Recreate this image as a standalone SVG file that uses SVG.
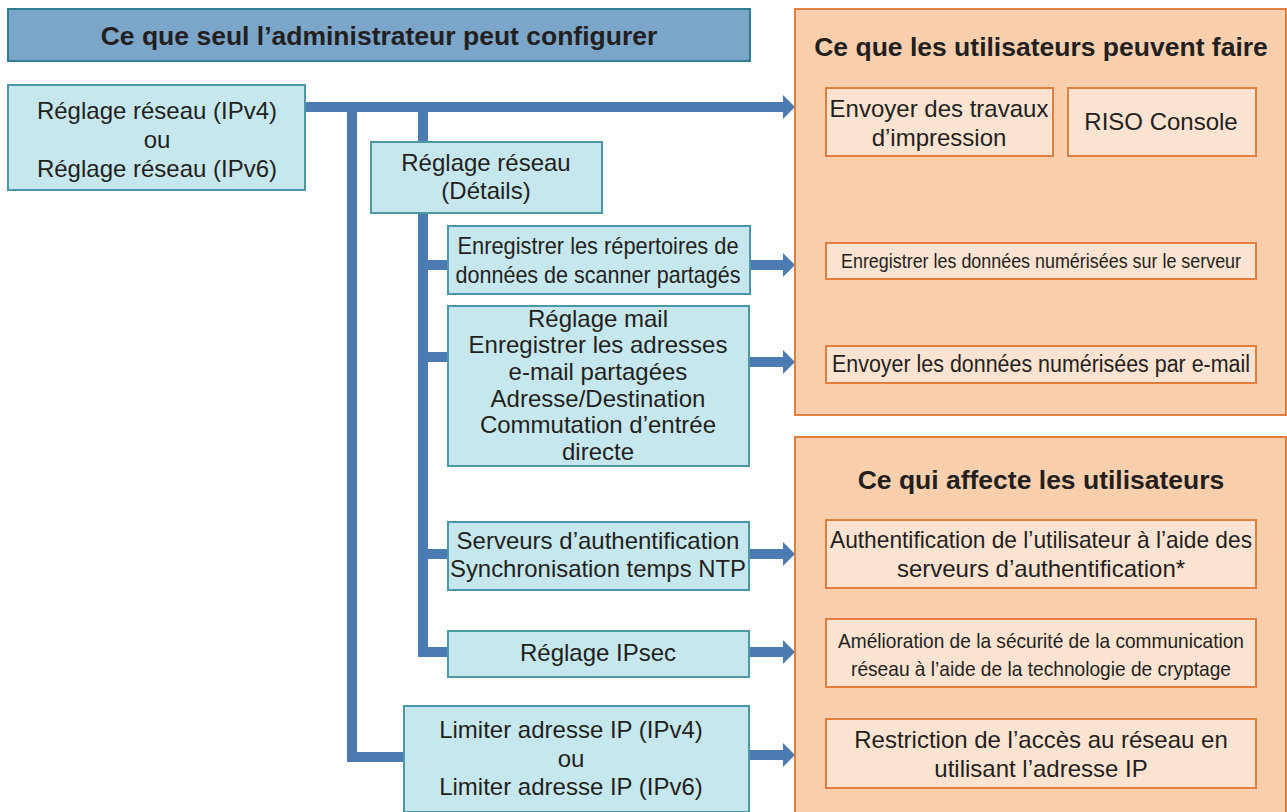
<svg xmlns="http://www.w3.org/2000/svg" width="1287" height="812" viewBox="0 0 1287 812">
<style>
text{font-family:"Liberation Sans",Arial,sans-serif;fill:#231f20;text-anchor:middle}
.t{font-size:24px}
.h{font-size:26.5px;font-weight:bold}
.bl{fill:#c6e7ee;stroke:#4b98a6;stroke-width:2}
.hd{fill:#7ba6ca;stroke:#2f7f8e;stroke-width:2}
.pn{fill:#facfad;stroke:#e27f3f;stroke-width:2}
.ob{fill:#fde3d1;stroke:#e27f3f;stroke-width:2}
.c{fill:none;stroke:#4b7bb1;stroke-width:10;stroke-linejoin:miter}
</style>
<defs>
<marker id="ah" markerUnits="userSpaceOnUse" markerWidth="13" markerHeight="26" refX="0" refY="13" orient="auto" viewBox="0 0 13 26">
<path d="M0,1 L12,13 L0,25 Z" fill="#4b7bb1"/>
</marker>
</defs>
<g id="connectors">
<path class="c" d="M305,107 H783" marker-end="url(#ah)"/>
<path class="c" d="M352,107 V757 H403"/>
<path class="c" d="M423,107 V652 H447"/>
<path class="c" d="M423,265 H447"/>
<path class="c" d="M423,357 H448"/>
<path class="c" d="M423,554 H448"/>
<path class="c" d="M750,265 H783" marker-end="url(#ah)"/>
<path class="c" d="M749,362 H783" marker-end="url(#ah)"/>
<path class="c" d="M749,554 H783" marker-end="url(#ah)"/>
<path class="c" d="M749,652 H783" marker-end="url(#ah)"/>
<path class="c" d="M749,755 H783" marker-end="url(#ah)"/>
</g>
<g id="title-admin">
<rect class="hd" x="8" y="9" width="742" height="52"/>
<text class="h" x="379" y="45">Ce que seul l’administrateur peut configurer</text>
</g>
<g id="n-reseau">
<rect class="bl" x="8" y="85" width="297" height="105"/>
<text class="t" x="157" y="119">Réglage réseau (IPv4)</text>
<text class="t" x="157" y="148">ou</text>
<text class="t" x="157" y="177">Réglage réseau (IPv6)</text>
</g>
<g id="n-details">
<rect class="bl" x="371" y="142" width="231" height="71"/>
<text class="t" x="486" y="171">Réglage réseau</text>
<text class="t" x="486" y="199">(Détails)</text>
</g>
<g id="n-repertoires">
<rect class="bl" x="448" y="226" width="302" height="68"/>
<text class="t" x="598" y="254" textLength="281" lengthAdjust="spacingAndGlyphs">Enregistrer les répertoires de</text>
<text class="t" x="598" y="283" textLength="285" lengthAdjust="spacingAndGlyphs">données de scanner partagés</text>
</g>
<g id="n-mail">
<rect class="bl" x="448" y="306" width="301" height="160"/>
<text class="t" x="598" y="327">Réglage mail</text>
<text class="t" x="598" y="353">Enregistrer les adresses</text>
<text class="t" x="598" y="380">e-mail partagées</text>
<text class="t" x="598" y="407">Adresse/Destination</text>
<text class="t" x="598" y="433">Commutation d’entrée</text>
<text class="t" x="598" y="460">directe</text>
</g>
<g id="n-serveurs">
<rect class="bl" x="448" y="522" width="301" height="68"/>
<text class="t" x="598" y="549">Serveurs d’authentification</text>
<text class="t" x="598" y="577" textLength="296" lengthAdjust="spacingAndGlyphs">Synchronisation temps NTP</text>
</g>
<g id="n-ipsec">
<rect class="bl" x="448" y="631" width="301" height="46"/>
<text class="t" x="598" y="661">Réglage IPsec</text>
</g>
<g id="n-limiter">
<rect class="bl" x="404" y="706" width="345" height="106"/>
<text class="t" x="571" y="738">Limiter adresse IP (IPv4)</text>
<text class="t" x="571" y="767">ou</text>
<text class="t" x="571" y="795">Limiter adresse IP (IPv6)</text>
</g>
<g id="panel-users">
<rect class="pn" x="795" y="9" width="491" height="406"/>
<text class="h" x="1041" y="56">Ce que les utilisateurs peuvent faire</text>
</g>
<g id="u-travaux">
<rect class="ob" x="826" y="88" width="227" height="68"/>
<text class="t" x="939" y="117">Envoyer des travaux</text>
<text class="t" x="939" y="146">d’impression</text>
</g>
<g id="u-riso">
<rect class="ob" x="1068" y="88" width="188" height="68"/>
<text class="t" x="1161" y="130">RISO Console</text>
</g>
<g id="u-serveur">
<rect class="ob" x="826" y="243" width="430" height="36"/>
<text class="t" x="1041" y="268" style="font-size:20px" textLength="400" lengthAdjust="spacingAndGlyphs">Enregistrer les données numérisées sur le serveur</text>
</g>
<g id="u-email">
<rect class="ob" x="826" y="346" width="430" height="37"/>
<text class="t" x="1041" y="372" style="font-size:23px" textLength="418" lengthAdjust="spacingAndGlyphs">Envoyer les données numérisées par e-mail</text>
</g>
<g id="panel-affect">
<rect class="pn" x="795" y="437" width="491" height="385"/>
<text class="h" x="1041" y="489">Ce qui affecte les utilisateurs</text>
</g>
<g id="a-auth">
<rect class="ob" x="826" y="520" width="430" height="68"/>
<text class="t" x="1041" y="548" textLength="422" lengthAdjust="spacingAndGlyphs">Authentification de l’utilisateur à l’aide des</text>
<text class="t" x="1041" y="577">serveurs d’authentification*</text>
</g>
<g id="a-ipsec">
<rect class="ob" x="826" y="619" width="430" height="68"/>
<text class="t" x="1041" y="648" style="font-size:21px" textLength="406" lengthAdjust="spacingAndGlyphs">Amélioration de la sécurité de la communication</text>
<text class="t" x="1041" y="676" style="font-size:21px" textLength="380" lengthAdjust="spacingAndGlyphs">réseau à l’aide de la technologie de cryptage</text>
</g>
<g id="a-ip">
<rect class="ob" x="826" y="719" width="430" height="69"/>
<text class="t" x="1041" y="748">Restriction de l’accès au réseau en</text>
<text class="t" x="1041" y="777">utilisant l’adresse IP</text>
</g>
</svg>
